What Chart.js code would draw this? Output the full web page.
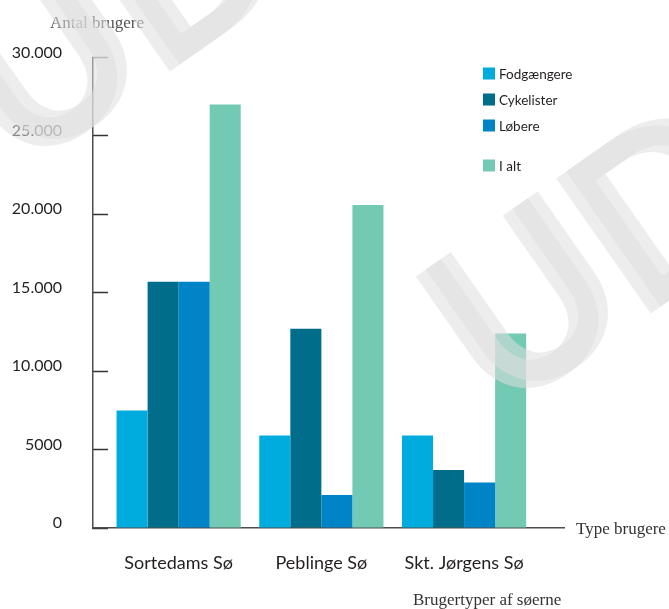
<!DOCTYPE html>
<html>
<head>
<meta charset="utf-8">
<script src="https://cdn.jsdelivr.net/npm/chart.js@4.4.0/dist/chart.umd.min.js"></script>
<style>
  html, body { margin: 0; padding: 0; background: #fff; }
  #wrap { position: relative; width: 669px; height: 609px; }
</style>
</head>
<body>
<div id="wrap"><canvas id="usersChart"></canvas></div>
<script>
// Brugertyper ved søerne
const lakes = ['Sortedams Sø', 'Peblinge Sø', 'Skt. Jørgens Sø'];
const seriesNames = ['Fodgængere', 'Cykelister', 'Løbere', 'I alt'];
const pedestrians = [7500, 5900, 5900];
const cyclists = [15700, 12700, 3700];
const runners = [15700, 2100, 2900];
const total = [27000, 20600, 12400];
const yTickLabels = ['0', '5000', '10.000', '15.000', '20.000', '25.000', '30.000'];

const colors = ['#00acdd', '#006e8a', '#0084c8', '#72c9b4'];
const seriesValues = [pedestrians, cyclists, runners, total];

const datasets = seriesNames.map((name, i) => ({
    label: name,
    data: seriesValues[i].map((v, j) => ({ x: j, y: v })),
    backgroundColor: colors[i],
    borderWidth: 0,
    barPercentage: 1,
    categoryPercentage: 0.87
}));

// legend box top right, inside the plot
const legendBox = {
    id: 'legendBox',
    afterDraw(chart) {
        const ctx = chart.ctx;
        const area = chart.chartArea;
        const x = area.left + 390;
        ctx.save();
        ctx.font = '13.5px Lato';
        ctx.textBaseline = 'middle';
        chart.data.datasets.forEach((ds, i) => {
            const y = area.top + 16 + i * 26 + (i === 3 ? 14 : 0);
            ctx.fillStyle = ds.backgroundColor;
            ctx.fillRect(x, y - 6, 12, 12);
            ctx.fillStyle = '#231f20';
            ctx.fillText(ds.label, x + 16, y + 1);
        });
        ctx.restore();
    }
};

// axis titles and caption (serif)
const captions = {
    id: 'captions',
    afterDraw(chart) {
        const ctx = chart.ctx;
        const area = chart.chartArea;
        ctx.save();
        ctx.font = '17px "Liberation Serif"';
        ctx.textBaseline = 'alphabetic';
        ctx.fillStyle = '#555';
        ctx.fillText('Antal brugere', 50, area.top - 30);
        ctx.fillStyle = '#333';
        ctx.fillText('Type brugere', area.right + 12, area.bottom + 6);
        ctx.fillText('Brugertyper af søerne', 413, chart.height - 4);
        ctx.restore();
    }
};

// diagonal "UDKAST" stamp over everything
const watermark = {
    id: 'watermark',
    afterDraw(chart) {
        const ctx = chart.ctx;
        const angle = -35 * Math.PI / 180;
        ctx.save();
        ctx.font = 'bold 228px Lato';
        ctx.fillStyle = 'rgba(222,222,222,0.55)';
        ctx.textBaseline = 'alphabetic';
        [[497, 421], [16, 179]].forEach(([ox, oy]) => {
            [0, 12].forEach(shift => {
                ctx.save();
                ctx.translate(ox, oy);
                ctx.rotate(angle);
                ctx.fillText('UDKAST', shift, 0);
                ctx.restore();
            });
        });
        ctx.restore();
    }
};

const ctx = document.getElementById('usersChart').getContext('2d');
const usersChart = new Chart(ctx, {
    type: 'bar',
    data: { datasets: datasets },
    options: {
        responsive: true,
        maintainAspectRatio: false,
        animation: false,
        layout: { padding: { top: 57.5, right: 105, bottom: 0, left: 0 } },
        plugins: {
            legend: { display: false },
            tooltip: { enabled: false }
        },
        scales: {
            x: {
                type: 'linear',
                min: -0.6,
                max: 2.7,
                offset: false,
                afterBuildTicks: scale => { scale.ticks = lakes.map((_, i) => ({ value: i })); },
                afterFit: scale => { scale.height = 81; },
                grid: { display: true, drawOnChartArea: false, drawTicks: false },
                border: { color: '#4d4d4d', width: 1.5 },
                ticks: {
                    autoSkip: false,
                    maxRotation: 0,
                    padding: 24,
                    color: '#231f20',
                    font: { family: 'Lato', size: 18 },
                    callback: value => lakes[value]
                }
            },
            y: {
                min: 0,
                max: 30000,
                afterFit: scale => { scale.width = 93; },
                grid: { drawOnChartArea: false, tickLength: -15, tickColor: '#333', tickWidth: 1.5 },
                border: { color: '#4d4d4d', width: 1.5 },
                ticks: {
                    stepSize: 5000,
                    padding: 46,
                    labelOffset: -5,
                    color: '#231f20',
                    font: { family: 'Lato', size: 16 },
                    callback: (value, index) => yTickLabels[index]
                }
            }
        }
    },
    plugins: [legendBox, captions, watermark]
});
</script>
</body>
</html>
